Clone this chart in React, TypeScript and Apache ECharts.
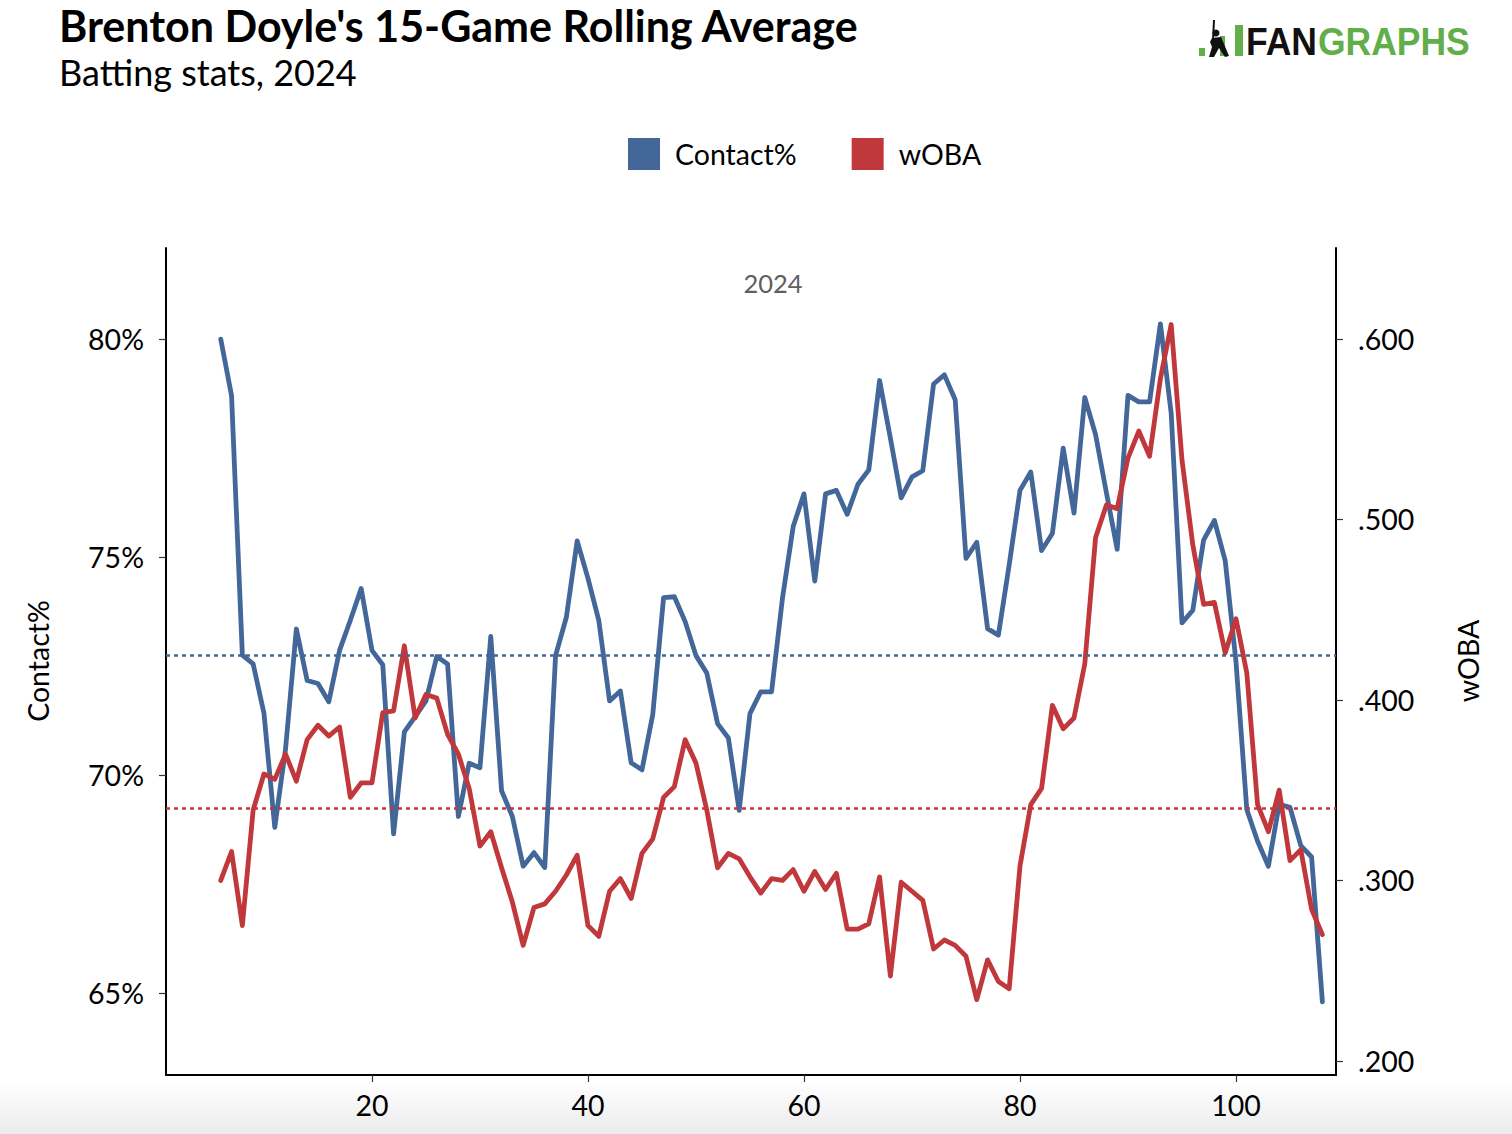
import React, { useEffect, useRef } from "react";
import * as echarts from "echarts";

// ---- data (15-game rolling averages, games 6..108) ----
const firstGame = 6;
const contactPct = [
  80.0, 78.7, 72.75, 72.55, 71.42, 68.8, 70.6, 73.35, 72.17, 72.1,
  71.68, 72.86, 73.55, 74.28, 72.86, 72.53, 68.65, 70.99, 71.34, 71.7,
  72.72, 72.55, 69.05, 70.27, 70.17, 73.18, 69.64, 69.05, 67.91, 68.22,
  67.88, 72.74, 73.62, 75.37, 74.51, 73.55, 71.7, 71.93, 70.28, 70.12,
  71.39, 74.07, 74.09, 73.52, 72.74, 72.34, 71.18, 70.85, 69.19, 71.41,
  71.91, 71.91, 74.04, 75.7, 76.45, 74.45, 76.45, 76.53, 75.98, 76.67,
  77.0, 79.05, 77.73, 76.36, 76.84, 76.98, 78.97, 79.18, 78.61, 74.97,
  75.34, 73.36, 73.21, 74.82, 76.53, 76.95, 75.15, 75.54, 77.5, 76.01,
  78.66, 77.81, 76.48, 75.18, 78.71, 78.56, 78.56, 80.35, 78.3, 73.49,
  73.78, 75.39, 75.84, 74.92, 72.6, 69.21, 68.48, 67.91, 69.33, 69.26,
  68.38, 68.12, 64.8,
];
const wOBA = [
  0.3, 0.316, 0.275, 0.339, 0.359, 0.356, 0.37, 0.355, 0.378, 0.386,
  0.38, 0.385, 0.346, 0.354, 0.354, 0.393, 0.394, 0.43, 0.39, 0.403,
  0.401, 0.381, 0.37, 0.351, 0.319, 0.327, 0.307, 0.288, 0.264, 0.285,
  0.287, 0.294, 0.303, 0.314, 0.275, 0.269, 0.294, 0.301, 0.29, 0.315,
  0.323, 0.346, 0.352, 0.378, 0.365, 0.339, 0.307, 0.315, 0.312, 0.302,
  0.293, 0.301, 0.3, 0.306, 0.294, 0.305, 0.295, 0.304, 0.273, 0.273,
  0.276, 0.302, 0.247, 0.299, 0.294, 0.289, 0.262, 0.267, 0.264, 0.258,
  0.234, 0.256, 0.244, 0.24, 0.308, 0.342, 0.351, 0.397, 0.384, 0.39,
  0.42, 0.49, 0.508, 0.506, 0.534, 0.549, 0.535, 0.578, 0.608, 0.533,
  0.486, 0.453, 0.454, 0.426, 0.445, 0.415, 0.342, 0.327, 0.35, 0.311,
  0.317, 0.284, 0.27,
];
const contactAvg = 72.75;
const wobaAvg = 0.342;
const xTicks = [20, 40, 60, 80, 100];
const contactTicks = [65, 70, 75, 80];
const wobaTicks = [0.2, 0.3, 0.4, 0.5, 0.6];

const BLUE = "#426798";
const RED = "#c0383b";
const GREEN = "#62ae4a";
const FONT = "Lato, 'Noto Sans', sans-serif";
const LABEL_SIZE = 28.5;

export default function App() {
  const ref = useRef<HTMLDivElement>(null);

  useEffect(() => {
    if (!ref.current) return;
    const chart = echarts.init(ref.current, null, { renderer: "svg" });

    const blueData = contactPct.map((v, i) => [firstGame + i, v]);
    const redData = wOBA.map((v, i) => [firstGame + i, v]);

    const axisCommon = {
      axisLine: { show: true, lineStyle: { color: "#000", width: 2 } },
      axisTick: { show: true, length: 7, lineStyle: { color: "#333", width: 1.2 } },
      splitLine: { show: false },
    };
    const labelCommon = {
      fontSize: LABEL_SIZE,
      color: "#000",
      fontFamily: FONT,
    };

    chart.setOption({
      animation: false,
      backgroundColor: "#fff",
      textStyle: { fontFamily: FONT },
      title: {
        text: "Brenton Doyle's 15-Game Rolling Average",
        subtext: "Batting stats, 2024",
        left: 59,
        top: 4,
        padding: 0,
        itemGap: 7,
        textStyle: { fontFamily: FONT, fontWeight: "bold", fontSize: 43, color: "#000" },
        subtextStyle: { fontFamily: FONT, fontSize: 36, color: "#000" },
      },
      legend: {
        data: ["Contact%", "wOBA"],
        left: 628,
        top: 138,
        padding: 0,
        icon: "rect",
        itemWidth: 32,
        itemHeight: 32,
        itemGap: 55,
        selectedMode: false,
        textStyle: { fontFamily: FONT, fontSize: LABEL_SIZE, color: "#000", padding: [0, 0, 0, 10] },
      },
      grid: { left: 166, right: 176, top: 248, bottom: 59, containLabel: false },
      xAxis: {
        type: "value",
        min: 0.93,
        max: 109.26,
        splitNumber: 5,
        ...axisCommon,
        axisTick: { ...axisCommon.axisTick, customValues: xTicks },
        axisLabel: {
          ...labelCommon,
          customValues: xTicks,
          margin: 15,
          formatter: (v: number) => (xTicks.includes(v) ? String(v) : ""),
        },
      },
      yAxis: [
        {
          type: "value",
          position: "left",
          min: 63.12,
          max: 82.09,
          splitNumber: 4,
          ...axisCommon,
          axisTick: { ...axisCommon.axisTick, customValues: contactTicks },
          axisLabel: {
            ...labelCommon,
            customValues: contactTicks,
            margin: 22,
            formatter: (v: number) => (contactTicks.includes(v) ? v + "%" : ""),
          },
        },
        {
          type: "value",
          position: "right",
          min: 0.1922,
          max: 0.6504,
          splitNumber: 4,
          ...axisCommon,
          axisTick: { ...axisCommon.axisTick, customValues: wobaTicks },
          axisLabel: {
            ...labelCommon,
            customValues: wobaTicks,
            margin: 22,
            formatter: (v: number) =>
              wobaTicks.some((t) => Math.abs(t - v) < 1e-6) ? v.toFixed(3).replace(/^0/, "") : "",
          },
        },
      ],
      series: [
        {
          name: "Contact%",
          type: "line",
          yAxisIndex: 0,
          data: blueData,
          symbol: "none",
          color: BLUE,
          lineStyle: { color: BLUE, width: 4.8, cap: "round", join: "round" },
          markLine: {
            silent: true,
            symbol: "none",
            label: { show: false },
            lineStyle: { color: BLUE, width: 2.5, type: [4, 4] },
            data: [{ yAxis: contactAvg }],
          },
          z: 3,
        },
        {
          name: "wOBA",
          type: "line",
          yAxisIndex: 1,
          data: redData,
          symbol: "none",
          color: RED,
          lineStyle: { color: RED, width: 4.8, cap: "round", join: "round" },
          markLine: {
            silent: true,
            symbol: "none",
            label: { show: false },
            lineStyle: { color: RED, width: 2.5, type: [4, 4] },
            data: [{ yAxis: wobaAvg }],
          },
          z: 4,
        },
      ],
      graphic: [
        {
          type: "rect",
          z: -10,
          silent: true,
          shape: { x: 0, y: 1080, width: 1512, height: 54 },
          style: {
            fill: new echarts.graphic.LinearGradient(0, 0, 0, 1, [
              { offset: 0, color: "rgba(0,0,0,0)" },
              { offset: 1, color: "rgba(0,0,0,0.08)" },
            ]),
          },
        },
        {
          type: "text",
          x: 773,
          y: 283,
          style: {
            text: "2024",
            font: `25.5px ${FONT}`,
            fill: "#5f5f5f",
            textAlign: "center",
            textVerticalAlign: "middle",
          },
        },
        {
          type: "text",
          x: 38,
          y: 661,
          rotation: Math.PI / 2,
          style: {
            text: "Contact%",
            font: `${LABEL_SIZE}px ${FONT}`,
            fill: "#000",
            textAlign: "center",
            textVerticalAlign: "middle",
          },
        },
        {
          type: "text",
          x: 1468,
          y: 661,
          rotation: Math.PI / 2,
          style: {
            text: "wOBA",
            font: `${LABEL_SIZE}px ${FONT}`,
            fill: "#000",
            textAlign: "center",
            textVerticalAlign: "middle",
          },
        },
        // FanGraphs logo
        { type: "rect", shape: { x: 1199, y: 48, width: 6, height: 8 }, style: { fill: GREEN } },
        { type: "rect", shape: { x: 1220, y: 36, width: 5, height: 20 }, style: { fill: GREEN } },
        { type: "rect", shape: { x: 1235, y: 25, width: 8, height: 31 }, style: { fill: GREEN } },
        {
          type: "polygon",
          shape: {
            points: [
              [1212, 38], [1221, 37], [1224, 44], [1229, 56], [1225, 57], [1219, 48],
              [1214, 57], [1209, 57], [1212, 47], [1210, 42],
            ],
          },
          style: { fill: "#111" },
        },
        { type: "circle", shape: { cx: 1216, cy: 33, r: 3.5 }, style: { fill: "#111" } },
        { type: "line", shape: { x1: 1213, y1: 40, x2: 1214, y2: 20 }, style: { stroke: "#111", lineWidth: 2 } },
        {
          type: "text",
          x: 1246,
          y: 41,
          scaleX: 0.91,
          style: {
            text: "FAN",
            font: "bold 39px 'Liberation Sans', Arial, sans-serif",
            fill: "#111",
            textVerticalAlign: "middle",
          },
        },
        {
          type: "text",
          x: 1318,
          y: 41,
          scaleX: 0.91,
          style: {
            text: "GRAPHS",
            font: "bold 39px 'Liberation Sans', Arial, sans-serif",
            fill: GREEN,
            textVerticalAlign: "middle",
          },
        },
      ],
    });

    return () => chart.dispose();
  }, []);

  return (
    <div
      ref={ref}
      style={{ position: "absolute", left: 0, top: 0, width: 1512, height: 1134 }}
    />
  );
}
